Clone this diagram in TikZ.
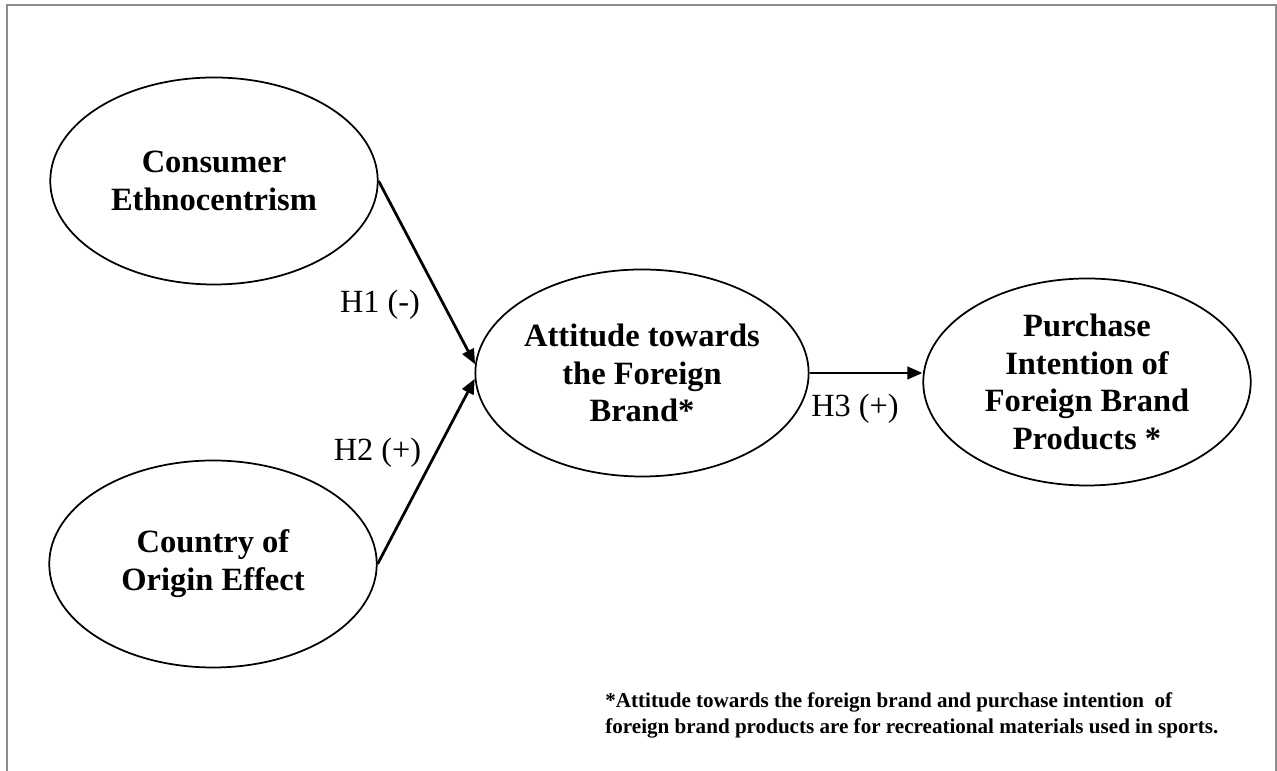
\documentclass[tikz,border=0pt]{standalone}
\usepackage{fontspec}
\setmainfont{Liberation Serif}
\usetikzlibrary{arrows.meta,shapes.geometric}

\begin{document}
\begin{tikzpicture}[
		construct/.style={ellipse, draw, line width=0.35mm, inner sep=0pt, minimum width=6.55cm, minimum height=4.14cm, align=center, font=\bfseries\fontsize{18.5}{21.5}\selectfont},
		hyp/.style={inner sep=0pt, font=\fontsize{18.4}{21}\selectfont},
		link/.style={line width=0.55mm, -{Triangle[length=0.3cm,width=0.25cm]}}
	]
			%%%%% START %%%%%
			
			\useasboundingbox (0, 0) rectangle (25.54, 15.42);
			\draw[line width=0.4mm, color=black!45] (0.14, 0) -- (0.14, 15.32) -- (25.51, 15.32) -- (25.51, 0);
			
			\node[construct] (ce) at (4.28, 11.80) {Consumer\\Ethnocentrism};
			\node[construct] (coo) at (4.26, 4.14) {Country of\\Origin Effect};
			\node[construct] (att) at (12.84, 7.96) {Attitude towards\\the Foreign\\Brand*};
			\node[construct] (pur) at (21.74, 7.78) {Purchase\\Intention of\\Foreign Brand\\Products *};
			
			\draw[link] (ce.east) -- (att.177);
			\draw[link] (coo.east) -- (att.182);
			\draw[link] (att.east) -- (att.east -| pur.west);
			
			\node[hyp] (h1) at (7.60, 9.32) {H1 (-)};
			\node[hyp] (h2) at (7.55, 6.36) {H2 (+)};
			\node[hyp] (h3) at (17.10, 7.24) {H3 (+)};
			
			\node[anchor=west, inner sep=0pt, align=left, font=\bfseries\fontsize{12}{14.8}\selectfont] (note) at (12.10, 1.12)
				{*Attitude towards the foreign brand and purchase intention~ of\\foreign brand products are for recreational materials used in sports.};
			
			%%%%% END %%%%%
\end{tikzpicture}
\end{document}
